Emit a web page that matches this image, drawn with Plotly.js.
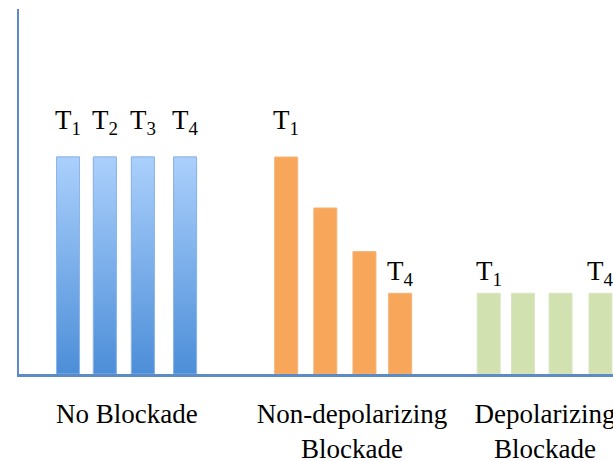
<!DOCTYPE html>
<html>
<head>
<meta charset="utf-8">
<script src="https://cdn.plot.ly/plotly-3.0.1.min.js"></script>
<style>html,body{margin:0;padding:0;background:#fff;}#chart{width:613px;height:461px;}</style>
</head>
<body>
<div id="chart"></div>
<script>
// ---- data ----
const groupLabels = ['No Blockade', 'Non-depolarizing<br>Blockade', 'Depolarizing<br>Blockade'];
const groupLabelX = [2.84, 8.76, 13.84];

const noBlockX = [1.29, 2.26, 3.26, 4.37];
const noBlockValues = [100, 100, 100, 100];
const noBlockText = ['T<sub>1</sub>', 'T<sub>2</sub>', 'T<sub>3</sub>', 'T<sub>4</sub>'];

const nonDepX = [7.03, 8.06, 9.09, 10.03];
const nonDepValues = [100, 76.5, 56.4, 37.2];
const nonDepText = ['T<sub>1</sub>', '', '', 'T<sub>4</sub>'];

const depX = [12.36, 13.26, 14.25, 15.30];
const depValues = [37.2, 37.2, 37.2, 37.2];
const depText = ['T<sub>1</sub>', '', '', 'T<sub>4</sub>'];

// ---- styling ----
const barWidth = 0.605;
const axisColor = '#5b8cc8';
const serif = 'Liberation Serif, Times New Roman, serif';

// gradient polygons for the blue bars (built from the data)
const gx = [], gy = [];
noBlockX.forEach((x, i) => {
  const h = barWidth / 2;
  gx.push(x - h, x + h, x + h, x - h, x - h, null);
  gy.push(0, 0, noBlockValues[i], noBlockValues[i], 0, null);
});

const traces = [
  {type: 'bar', x: noBlockX, y: noBlockValues, width: barWidth,
   marker: {color: '#7cb0ea', line: {color: '#8fb6e8', width: 1}}, hoverinfo: 'skip'},
  {type: 'scatter', x: gx, y: gy, mode: 'lines', fill: 'toself', connectgaps: false,
   line: {color: '#8db5e9', width: 1},
   fillgradient: {type: 'vertical', start: 0, stop: 100,
                  colorscale: [[0, '#4c8ed8'], [1, '#abd0fc']]},
   hoverinfo: 'skip'},
  {type: 'bar', x: nonDepX, y: nonDepValues, width: barWidth,
   marker: {color: '#f8a659', line: {color: '#f3b57a', width: 1}}, hoverinfo: 'skip'},
  {type: 'bar', x: depX, y: depValues, width: barWidth,
   marker: {color: '#d2e1b0', line: {color: '#dae6c0', width: 1}}, hoverinfo: 'skip'}
];

const annotations = [];
function addLabels(xs, vs, ts) {
  xs.forEach((x, i) => {
    if (!ts[i]) return;
    annotations.push({
      x: x, y: vs[i], xref: 'x', yref: 'y', text: ts[i], showarrow: false,
      xanchor: 'center', yanchor: 'bottom', yshift: vs[i] > 90 ? 16 : 1,
      font: {family: serif, size: 27, color: '#000'}
    });
  });
}
addLabels(noBlockX, noBlockValues, noBlockText);
addLabels(nonDepX, nonDepValues, nonDepText);
addLabels(depX, depValues, depText);

const layout = {
  width: 613, height: 461,
  margin: {l: 19, r: 0, t: 9, b: 87},
  paper_bgcolor: '#fff', plot_bgcolor: '#fff',
  showlegend: false, barmode: 'overlay',
  xaxis: {range: [0, 15.63], showline: true, linecolor: axisColor, linewidth: 2.5,
          showgrid: false, zeroline: false, ticks: '',
          tickmode: 'array', tickvals: groupLabelX, ticktext: groupLabels,
          ticklabeloverflow: 'allow',
          tickfont: {family: serif, size: 27, color: '#000'}, ticklabelstandoff: 14},
  yaxis: {range: [0, 168.2], showline: true, linecolor: axisColor, linewidth: 2.5,
          showgrid: false, zeroline: false, ticks: '', showticklabels: false},
  annotations: annotations
};

Plotly.newPlot('chart', traces, layout, {staticPlot: true, displayModeBar: false});
</script>
</body>
</html>
